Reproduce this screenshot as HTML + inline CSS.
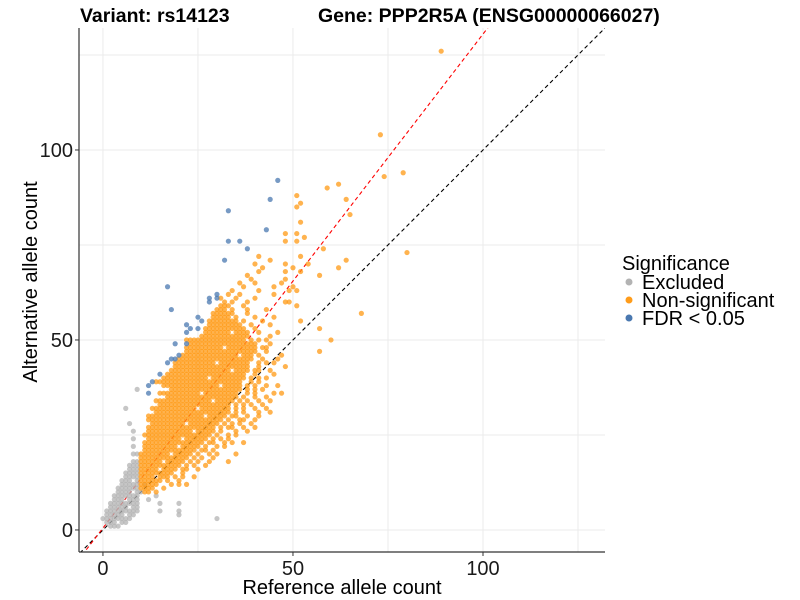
<!DOCTYPE html>
<html><head><meta charset="utf-8"><style>
html,body{margin:0;padding:0;background:#fff;}
svg{display:block;font-family:"Liberation Sans",Arial,sans-serif;}
</style></head><body>
<svg id="chart" width="800" height="600" viewBox="0 0 800 600">
<defs><clipPath id="pc"><rect x="79" y="28" width="526" height="524"/></clipPath></defs>
<g id="grid"></g>
<g id="lines" clip-path="url(#pc)"></g>
<g id="pts" clip-path="url(#pc)"></g>
<g id="axes"></g>
<text x="80" y="22" font-size="19.5" font-weight="bold" fill="#000">Variant: rs14123</text>
<text x="318" y="22" font-size="19.5" font-weight="bold" fill="#000">Gene: PPP2R5A (ENSG00000066027)</text>
<text x="342" y="594" font-size="20" text-anchor="middle" fill="#000">Reference allele count</text>
<text transform="translate(37,282) rotate(-90)" font-size="20" text-anchor="middle" fill="#000">Alternative allele count</text>
<g>
<text x="622" y="270" font-size="20" fill="#000">Significance</text>
<g><circle cx="629" cy="282" r="3.5" fill="#b3b3b3"/><text x="642" y="289" font-size="20" fill="#000">Excluded</text></g>
<g><circle cx="629" cy="300" r="3.5" fill="#ff9c1a"/><text x="642" y="307" font-size="20" fill="#000">Non-significant</text></g>
<g><circle cx="629" cy="318" r="3.5" fill="#4a78b0"/><text x="642" y="325" font-size="20" fill="#000">FDR &lt; 0.05</text></g>
</g>
</svg>
<script>
const xTicks=[0,50,100];
const yTicks=[0,50,100];
const minorX=[25,75,125];
const minorY=[25,75,125];
const redSlope=1.3, redIntercept=0.5;
// grey (excluded) rows "y:x list/ranges"
const greyRows=["1:2-4","2:1-3,5-6","3:0-7,30","4:1-5,7-8,20","5:1-9,15,20","6:2-6,8-9","7:2-9,15,20","8:3-5,7-9,12","9:3-9,14","10:4-7,9-10","11:4-9","12:5-9,11","13:5-7,9","14:6-9","15:6-9","16:7-9","17:7-9","18:8-9","20:8-9","22:8","24:8","26:8","28:7","32:6","37:9"];
// orange (non-significant) core rows
const orangeRows=["10:11,12,14","11:10-13,16","12:10-14,18","13:10-15,17,20","14:10-13,15-17","15:10-18,21","16:10-14,16-19,22","17:10-20,24","18:10-15,17-21,25","19:10-22,26","20:10-17,19-23,28","21:11-24,27","22:11-19,21-25,30","23:11-26,29,32","24:12-20,22-27,31","25:11-28,33","26:12-23,25-29,35","27:12-29,31,37","28:13-21,23-30,34","29:12-31,36,40","30:14-26,28-32,38","31:14-32,35,41","32:15-24,26-33,37,43","33:15-33,39","34:16-28,30-34,36,44","35:17-35,40","36:17-25,27-35,38,45","37:18-36,42","38:18-30,32-36,40,46","39:19-36,39","40:20-27,29-37,43","41:20-37,45","42:21-33,35-38,41","43:22-38,48","44:22-29,31-38,43","45:23-39,46","46:23-35,37-39,47","47:24-40,57","48:24-31,33-40,43","49:25-40","50:26-37,39,41,60","51:26-38,44","52:27-33,35-38,41,46","53:27-37,40,57","54:28-36,39,44","55:28-35,37,42,52","56:29-33,35,40,45","57:29-34,38,68","58:30-32,34,38,43","59:31-33,37,51","60:32,34,38,48-49","61:31,35,40","62:33,36,45","63:34,41,49,51","64:37,45,50","65:36,40,47","66:39,48","67:38,57","68:41,48,52","69:42,50,62","70:40,48,54","71:44,64","72:41,52","73:80","74:58","76:48,51","77:53","78:48,51","81:52","83:65","85:51","86:52","87:64","88:51","90:59","91:62","93:74","94:79","104:73","126:89"];
// orange scattered fringe rows
const orangeFringeRows=["12:20,22","14:19,21,24","16:21,25","17:22,27","18:23,28,33","19:24,29","20:25,30,35","21:26,29","22:27,32","23:28,34,37","24:29,33","25:30,35","26:31,38","27:33,34,40","28:32,36,39","29:33,37","30:12-13,34,35,41","31:33,37,44","32:13-14,35,40","33:35,37,42","34:14-15,38,41","35:37,43","36:15-16,40,47","37:38,40","38:16-17,38,43","39:14-18,41","40:16-19,39,41","41:17-19,40","42:18-20,40,44","43:19-21,41","44:19-21,41,45","45:20-22,42","46:21-22,41","47:22-23,43","48:22-23,42","49:23-24,44","50:22-25,43"];
// blue (FDR<0.05) points
const blueX=[46,44,33,43,33,36,38,32,17,18,28,28,30,30,25,26,22,23,22,25,19,22,20,18,19,17,15,13,12,12];
const blueY=[92,87,84,79,76,76,74,71,64,58,61,60,62,61,56,55,54,53,52,53,49,49,46,45,45,44,41,39,38,36];

const NS='http://www.w3.org/2000/svg';
const X0=79,X1=605,Y0=28,Y1=552;
const xmin=-6.3,xmax=132.1,ymin=-5.8,ymax=132.1;
function sx(v){return X0+(v-xmin)/(xmax-xmin)*(X1-X0);}
function sy(v){return Y1-(v-ymin)/(ymax-ymin)*(Y1-Y0);}
function mk(tag,attrs,parent){const e=document.createElementNS(NS,tag);for(const k in attrs)e.setAttribute(k,attrs[k]);parent.appendChild(e);return e;}
function parseRows(rows){const xs=[],ys=[];rows.forEach(r=>{const [yy,rest]=r.split(':');rest.split(',').forEach(p=>{const q=p.split('-');const a=+q[0],b=q.length>1?+q[1]:a;for(let v=a;v<=b;v++){xs.push(v);ys.push(+yy);}});});return [xs,ys];}

const grid=document.getElementById('grid');
xTicks.concat(minorX).forEach(t=>{const l=mk('line',{x1:sx(t),x2:sx(t),y1:Y0,y2:Y1,stroke:'#ebebeb','stroke-width':1},grid);

});
yTicks.concat(minorY).forEach(t=>{const l=mk('line',{x1:X0,x2:X1,y1:sy(t),y2:sy(t),stroke:'#ebebeb','stroke-width':1},grid);

});

const lines=document.getElementById('lines');
const bl=mk('line',{x1:sx(-10),y1:sy(-10),x2:sx(140),y2:sy(140),stroke:'#000','stroke-width':1.1,'stroke-dasharray':'4,3'},lines);


const rl=mk('line',{x1:sx(-10),y1:sy(redSlope*-10+redIntercept),x2:sx(140),y2:sy(redSlope*140+redIntercept),stroke:'#ff0000','stroke-width':1.1,'stroke-dasharray':'4,3'},lines);



const pts=document.getElementById('pts');
function drawSet(xs,ys,color,name){for(let i=0;i<xs.length;i++){const c=mk('circle',{cx:sx(xs[i]),cy:sy(ys[i]),r:2.6,fill:color,'fill-opacity':0.75},pts);

}}
const g=parseRows(greyRows);drawSet(g[0],g[1],'#b3b3b3','point-excluded');
const o=parseRows(orangeRows);drawSet(o[0],o[1],'#ff9a14','point-non-significant');
const of=parseRows(orangeFringeRows);drawSet(of[0],of[1],'#ff9a14','point-non-significant');
drawSet(blueX,blueY,'#4a78b0','point-fdr');

const axes=document.getElementById('axes');
mk('line',{x1:X0,x2:X0,y1:Y0,y2:Y1,stroke:'#333','stroke-width':1.2},axes);
mk('line',{x1:X0,x2:X1,y1:Y1,y2:Y1,stroke:'#333','stroke-width':1.2},axes);
xTicks.forEach(t=>{mk('line',{x1:sx(t),x2:sx(t),y1:Y1,y2:Y1+4,stroke:'#333'},axes);
const tx=mk('text',{x:sx(t),y:Y1+23,'font-size':20,'text-anchor':'middle',fill:'#1a1a1a'},axes);tx.textContent=t;

});
yTicks.forEach(t=>{mk('line',{x1:X0-4,x2:X0,y1:sy(t),y2:sy(t),stroke:'#333'},axes);
const tx=mk('text',{x:X0-6,y:sy(t)+7,'font-size':20,'text-anchor':'end',fill:'#1a1a1a'},axes);tx.textContent=t;

});
</script>
</body></html>
